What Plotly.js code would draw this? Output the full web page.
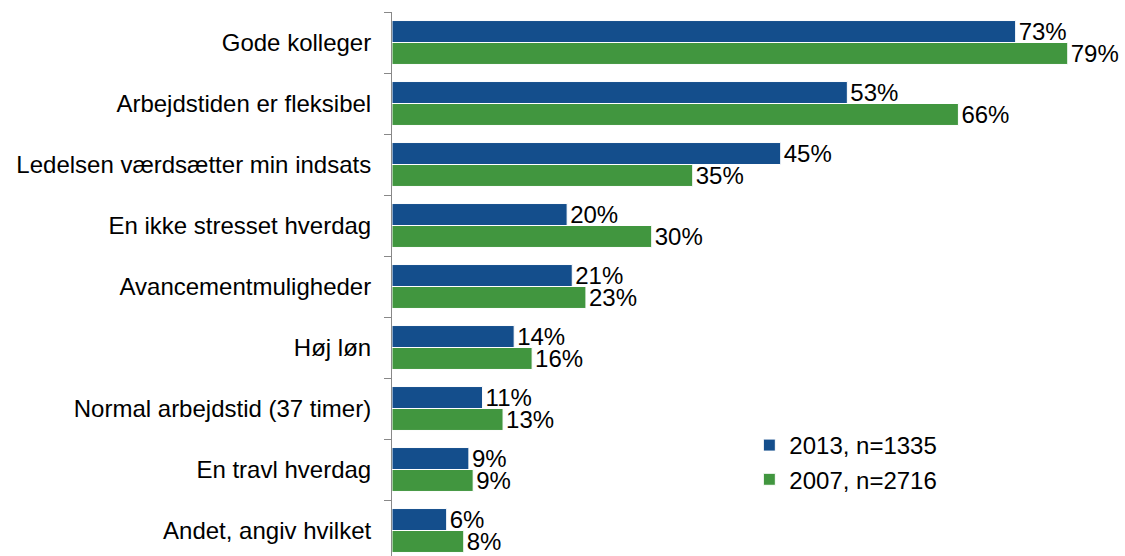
<!DOCTYPE html>
<html>
<head>
<meta charset="utf-8">
<script src="https://cdn.plot.ly/plotly-3.0.1.min.js"></script>
<style>html,body{margin:0;padding:0;background:#fff;overflow:hidden}</style>
</head>
<body>
<div id="chart" style="width:1125px;height:556px"></div>
<script>
const categories = [
  "Gode kolleger",
  "Arbejdstiden er fleksibel",
  "Ledelsen værdsætter min indsats",
  "En ikke stresset hverdag",
  "Avancementmuligheder",
  "Høj løn",
  "Normal arbejdstid (37 timer)",
  "En travl hverdag",
  "Andet, angiv hvilket"
];
const values2013 = [73.0, 53.3, 45.5, 20.5, 21.1, 14.3, 10.6, 9.0, 6.4];
const values2007 = [79.1, 66.3, 35.2, 30.4, 22.7, 16.4, 13.0, 9.5, 8.4];
const labels2013 = ["73%", "53%", "45%", "20%", "21%", "14%", "11%", "9%", "6%"];
const labels2007 = ["79%", "66%", "35%", "30%", "23%", "16%", "13%", "9%", "8%"];
const seriesNames = ["2013, n=1335", "2007, n=2716"];

const font = "Liberation Sans, Arial, sans-serif";
function trace(vals, labels, name, color) {
  return {
    type: "bar", orientation: "h",
    x: vals, y: categories, name: name,
    text: labels, textposition: "outside", cliponaxis: false,
    constraintext: "none",
    textfont: {family: font, size: 24, color: "#000"},
    marker: {color: color, line: {color: "#ffffff", width: 1}},
    hoverinfo: "skip"
  };
}
const data = [
  trace(values2013, labels2013, seriesNames[0], "#144E8C"),
  trace(values2007, labels2007, seriesNames[1], "#41963F")
];
const layout = {
  width: 1125, height: 556,
  margin: {l: 392, r: 0, t: 12, b: 0},
  paper_bgcolor: "#fff", plot_bgcolor: "#fff",
  barmode: "group", bargap: 0.28, bargroupgap: 0,
  showlegend: true,
  legend: {x: 0.4875, y: 0.2445, xanchor: "left", yanchor: "top",
    font: {family: font, size: 24, color: "#000"},
    itemwidth: 30, tracegroupgap: 0, bgcolor: "rgba(0,0,0,0)"},
  xaxis: {range: [0, 85.8], visible: false, fixedrange: true},
  yaxis: {
    type: "category", range: [8.418, -0.5],
    showline: true, linecolor: "#888", linewidth: 1,
    showgrid: false, zeroline: false,
    ticks: "outside", ticklen: 7, tickcolor: "#888",
    tickson: "boundaries",
    tickfont: {family: font, size: 24, color: "#000"},
    ticklabelstandoff: 15
  },
  font: {family: font}
};
Plotly.newPlot("chart", data, layout, {staticPlot: true, displayModeBar: false});
</script>
</body>
</html>
